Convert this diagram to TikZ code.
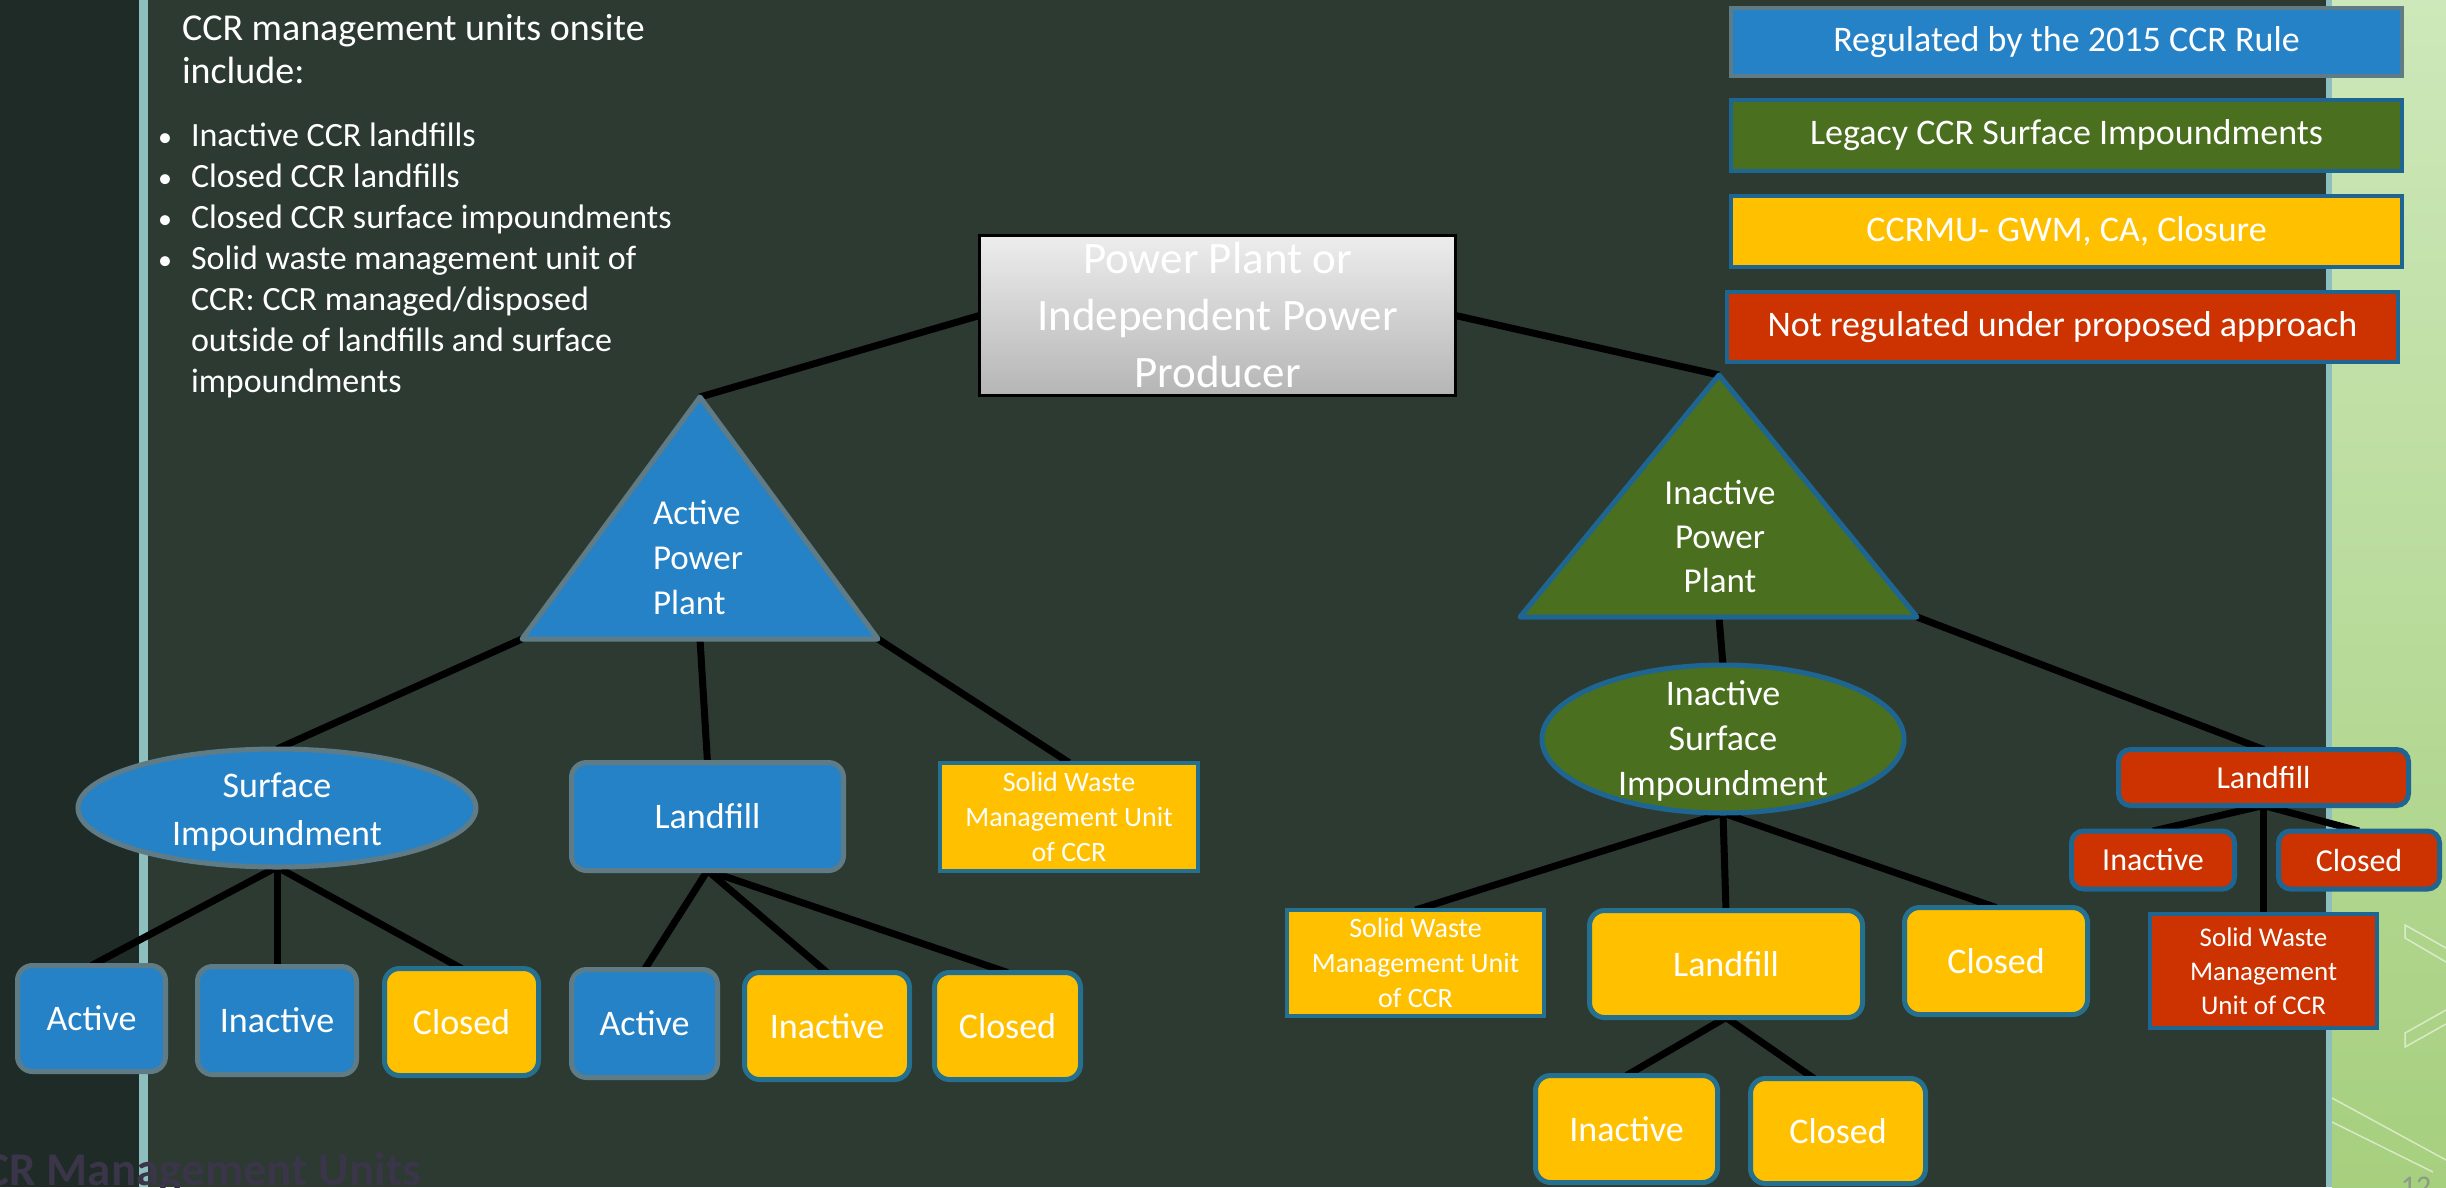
\documentclass[tikz,border=0pt]{standalone}
\usepackage{fontspec}
\setmainfont{Carlito}
\usetikzlibrary{shapes.geometric}
\definecolor{bgmain}{HTML}{2C3A32}
\definecolor{bgleft}{HTML}{1F2B27}
\definecolor{barc}{HTML}{8DBFBF}
\definecolor{gtop}{HTML}{CDE8BA}
\definecolor{gbot}{HTML}{A6CF7E}
\definecolor{bluef}{HTML}{2682C6}
\definecolor{greyb}{HTML}{5E7B86}
\definecolor{greenf}{HTML}{4A6F1F}
\definecolor{blueb}{HTML}{1F6592}
\definecolor{tealb}{HTML}{25708F}
\definecolor{yellowf}{HTML}{FFC000}
\definecolor{redf}{HTML}{CC3300}
\definecolor{hdrtop}{HTML}{EDEDED}
\definecolor{hdrbot}{HTML}{B5B5B5}
\definecolor{ttlc}{HTML}{3A3548}
\definecolor{pgc}{HTML}{8B9C86}
\pgfdeclarelayer{bg}
\pgfdeclarelayer{edges}
\pgfsetlayers{bg,edges,main}
\newcommand{\fsz}[2]{\fontsize{#1}{#2}\selectfont}
\begin{document}
\begin{tikzpicture}[x=1pt,y=-1pt,
  every node/.style={inner sep=0pt,outer sep=0pt},
  wtxt/.style={text=white},
  unit/.style={wtxt,align=center,line width=5pt},
  blueR/.style={unit,fill=bluef,draw=greyb,rounded corners=15pt},
  yellowR/.style={unit,fill=yellowf,draw=tealb,rounded corners=15pt},
  redR/.style={unit,fill=redf,draw=blueb,rounded corners=12pt},
  yellowS/.style={unit,fill=yellowf,draw=tealb,line width=4pt},
  redS/.style={unit,fill=redf,draw=blueb,line width=4pt},
  legendbox/.style={wtxt,minimum width=671pt,minimum height=68pt,line width=4pt,font=\fsz{36}{44}},
  conn/.style={line width=7pt,draw=black},
  bigt/.style={font=\fsz{36}{44}},
  smallt/.style={font=\fsz{28}{35}},
  redt/.style={font=\fsz{32}{40}},
  listt/.style={text=white,font=\fsz{34}{41},anchor=base west},
  dott/.style={text=white,font=\fsz{28}{34},anchor=base west},
  deco/.style={draw=white,opacity=0.55,line width=1.5pt}
]
\useasboundingbox (0,0) rectangle (2446,1187);
\clip (0,0) rectangle (2446,1187);

% ---------- background ----------
\begin{pgfonlayer}{bg}
\fill[bgmain] (0,0) rectangle (2446,1187);
\fill[bgleft] (0,0) rectangle (139,1187);
\fill[barc] (139,0) rectangle (148,1187);
\shade[top color=gtop,bottom color=gbot] (2332,0) rectangle (2446,1187);
\fill[barc] (2326,0) rectangle (2332,1187);
\draw[deco] (2446,948) -- (2405,925) -- (2405,938) -- (2446,962);
\draw[deco] (2446,1010) -- (2405,1033) -- (2405,1047) -- (2446,1024);
\draw[deco] (2332,1098) -- (2446,1160);
\draw[deco] (2332,1122) -- (2433,1172);
\end{pgfonlayer}

% ---------- left text ----------
\node[listt,font=\fsz{38}{42}] (t1) at (182,40) {CCR management units onsite};
\node[listt,font=\fsz{38}{42}] (t2) at (182,83) {include:};
\node[dott] (d1) at (158,146) {\textbullet};
\node[listt] (b1) at (191,146) {Inactive CCR landfills};
\node[dott] (d2) at (158,187) {\textbullet};
\node[listt] (b2) at (191,187) {Closed CCR landfills};
\node[dott] (d3) at (158,228) {\textbullet};
\node[listt] (b3) at (191,228) {Closed CCR surface impoundments};
\node[dott] (d4) at (158,269) {\textbullet};
\node[listt] (b4) at (191,269) {Solid waste management unit of};
\node[listt] (b5) at (191,310) {CCR: CCR managed/disposed};
\node[listt] (b6) at (191,351) {outside of landfills and surface};
\node[listt] (b7) at (191,392) {impoundments};

% ---------- legend ----------
\node[legendbox,fill=bluef,draw=greyb] (lg1) at (2066.5,42) {Regulated by the 2015 CCR Rule};
\node[legendbox,fill=greenf,draw=blueb,minimum height=71pt] (lg2) at (2066.5,135.5) {Legacy CCR Surface Impoundments};
\node[legendbox,fill=yellowf,draw=blueb,minimum height=71pt] (lg3) at (2066.5,231.5) {CCRMU- GWM, CA, Closure};
\node[legendbox,fill=redf,draw=blueb,minimum height=70pt] (lg4) at (2062.5,327) {Not regulated under proposed approach};

% ---------- header ----------
\node[draw=black,line width=3pt,top color=hdrtop,bottom color=hdrbot,minimum width=476pt,minimum height=160pt,text=white,align=center,font=\fsz{45}{57}] (hdr) at (1217.5,315.5) {Power Plant or\\Independent Power\\Producer};

% ---------- triangles ----------
\coordinate (aA) at (700,397);
\coordinate (aL) at (522,639);
\coordinate (aR) at (878,639);
\coordinate (aM) at (700,639);
\filldraw[fill=bluef,draw=greyb,line width=5pt,line join=round] (aA) -- (aL) -- (aR) -- cycle;
\node[wtxt,align=left,font=\fsz{35}{45},anchor=west] (tA) at (653,558) {Active\\Power\\Plant};

\coordinate (iA) at (1719,375);
\coordinate (iL) at (1520,617);
\coordinate (iR) at (1917,617);
\coordinate (iM) at (1719,617);
\filldraw[fill=greenf,draw=blueb,line width=5pt,line join=round] (iA) -- (iL) -- (iR) -- cycle;
\node[wtxt,align=center,font=\fsz{35}{44}] (tI) at (1720,537) {Inactive\\Power\\Plant};

% ---------- left branch ----------
\node[ellipse,fill=bluef,draw=greyb,line width=5pt,minimum width=398pt,minimum height=118pt] (SI) at (277,808) {};
\node[wtxt,align=center,font=\fsz{36}{48}] (SIt) at (277,812) {Surface\\Impoundment};
\node[blueR,bigt,minimum width=272pt,minimum height=108pt] (LF1) at (707.5,816.5) {Landfill};
\node[yellowS,smallt,minimum width=258pt,minimum height=108pt] (SW1) at (1069,816.5) {Solid Waste\\Management Unit\\of CCR};

\node[blueR,bigt,minimum width=148pt,minimum height=106pt] (A1) at (91.5,1018.5) {Active};
\node[blueR,bigt,minimum width=159pt,minimum height=108pt] (I1) at (277,1020.5) {Inactive};
\node[yellowR,bigt,minimum width=154pt,minimum height=107pt] (C1) at (461.5,1022) {Closed};
\node[blueR,bigt,minimum width=146pt,minimum height=108pt] (A2) at (644.5,1023.5) {Active};
\node[yellowR,bigt,minimum width=165pt,minimum height=107pt] (I2) at (827,1026) {Inactive};
\node[yellowR,bigt,minimum width=146pt,minimum height=107pt] (C2) at (1007.5,1026) {Closed};

% ---------- right branch ----------
\node[ellipse,fill=greenf,draw=blueb,line width=5pt,minimum width=362pt,minimum height=148pt] (ISI) at (1723,739) {};
\node[wtxt,align=center,font=\fsz{36}{45}] (ISIt) at (1723,741) {Inactive\\Surface\\Impoundment};
\node[yellowS,smallt,minimum width=257pt,minimum height=106pt] (SW2) at (1415.5,963) {Solid Waste\\Management Unit\\of CCR};
\node[yellowR,bigt,minimum width=273pt,minimum height=107pt] (LF2) at (1726,964) {Landfill};
\node[yellowR,bigt,minimum width=183pt,minimum height=107pt] (CL3) at (1996,961) {Closed};
\node[yellowR,bigt,minimum width=182pt,minimum height=107pt] (IN4) at (1626.5,1129) {Inactive};
\node[yellowR,bigt,minimum width=175pt,minimum height=105pt] (CL4) at (1838,1131) {Closed};

\node[redR,redt,minimum width=290pt,minimum height=56pt] (LF3) at (2263.5,777.5) {Landfill};
\node[redR,redt,minimum width=163pt,minimum height=58pt] (IN5) at (2153,860) {Inactive};
\node[redR,redt,minimum width=161pt,minimum height=58pt] (CL5) at (2359,860) {Closed};
\node[redS,font=\fsz{27}{34},minimum width=227pt,minimum height=114pt] (SW3) at (2263.5,971) {Solid Waste\\Management\\Unit of CCR};

% ---------- footer ----------
\node[text=ttlc,font=\bfseries\fsz{47}{47},anchor=base west] (ft) at (-40,1185) {CCR Management Units};
\node[text=pgc,font=\fsz{30}{30},anchor=north] (pg) at (2416,1177) {12};

% ---------- connectors ----------
\begin{pgfonlayer}{edges}
\draw[conn] (hdr.west) -- (aA);
\draw[conn] (hdr.east) -- (iA);
\draw[conn] (aL) -- (SI.north);
\draw[conn] (aM) -- (LF1.north);
\draw[conn] (aR) -- (SW1.north);
\draw[conn] (SI.south) -- (A1.north);
\draw[conn] (SI.south) -- (I1.north);
\draw[conn] (SI.south) -- (C1.north);
\draw[conn] (LF1.south) -- (A2.north);
\draw[conn] (LF1.south) -- (I2.north);
\draw[conn] (LF1.south) -- (C2.north);
\draw[conn] (iM) -- (ISI.north);
\draw[conn] (iR) -- (LF3.north);
\draw[conn] (ISI.south) -- (SW2.north);
\draw[conn] (ISI.south) -- (LF2.north);
\draw[conn] (ISI.south) -- (CL3.north);
\draw[conn] (LF2.south) -- (IN4.north);
\draw[conn] (LF2.south) -- ([xshift=-24pt]CL4.north);
\draw[conn] (LF3.south) -- (IN5.north);
\draw[conn] (LF3.south) -- (CL5.north);
\draw[conn] (LF3.south) -- (SW3.north);
\end{pgfonlayer}
\end{tikzpicture}
\end{document}
